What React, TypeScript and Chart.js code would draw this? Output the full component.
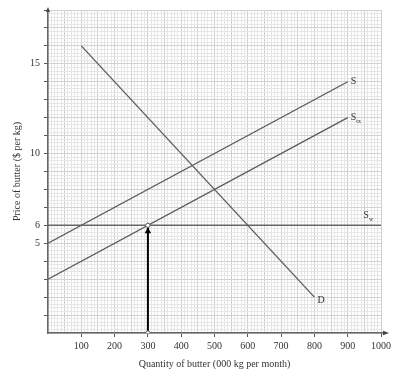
import { useEffect, useRef } from 'react';
import { Chart, registerables } from 'chart.js';

Chart.register(...registerables);

// ---- data ----
const quantityRange = [0, 1000];
const priceRange = [0, 18];
const xLabelTicks = [100, 200, 300, 400, 500, 600, 700, 800, 900, 1000];
const yLabelTicks = [5, 6, 10, 15];

const demandQ = [100, 800];
const demandP = [16, 2];
const supplyQ = [0, 900];
const supplyP = [5, 14];
const supplyTaxQ = [0, 900];
const supplyTaxP = [3, 12];
const worldQ = [0, 1000];
const worldP = [6, 6];
const arrowQ = [300, 300];
const arrowP = [0, 6];

const curveNames = ['D', 'S', 'S', 'S'];
const curveSubs = ['', '', 'tx', 'w'];
const worldLabelQ = 950;

const FONT = "'Liberation Serif', 'Times New Roman', serif";

const pts = (xs: number[], ys: number[]) => xs.map((v, i) => ({ x: v, y: ys[i] }));

const isInt = (v: number) => Math.abs(v - Math.round(v)) < 1e-6;
const inList = (v: number, list: number[]) => list.some((l) => Math.abs(l - v) < 1e-6);

const annotate = {
  id: 'annotate',
  afterDatasetsDraw(chart: any) {
    const { ctx, chartArea, scales } = chart;
    const x = scales.x;
    const y = scales.y;
    ctx.save();
    const y0 = y.getPixelForValue(0);
    const x0 = x.getPixelForValue(0);
    // x axis arrow
    ctx.strokeStyle = '#666';
    ctx.fillStyle = '#444';
    ctx.lineWidth = 1.5;
    ctx.beginPath();
    ctx.moveTo(chartArea.right, y0);
    ctx.lineTo(chartArea.right + 4, y0);
    ctx.stroke();
    ctx.beginPath();
    ctx.moveTo(chartArea.right + 8, y0);
    ctx.lineTo(chartArea.right + 2, y0 - 2.2);
    ctx.lineTo(chartArea.right + 2, y0 + 2.2);
    ctx.closePath();
    ctx.fill();
    // y axis arrow
    ctx.beginPath();
    ctx.moveTo(x0, chartArea.top - 3);
    ctx.lineTo(x0 - 2, chartArea.top + 2);
    ctx.lineTo(x0 + 2, chartArea.top + 2);
    ctx.closePath();
    ctx.fill();

    // vertical arrow head
    const ax = x.getPixelForValue(arrowQ[1]);
    const ay = y.getPixelForValue(arrowP[1]);
    ctx.fillStyle = '#000';
    ctx.beginPath();
    ctx.moveTo(ax, ay + 2);
    ctx.lineTo(ax - 3.2, ay + 8);
    ctx.lineTo(ax + 3.2, ay + 8);
    ctx.closePath();
    ctx.fill();
    ctx.fillStyle = '#fff';
    ctx.strokeStyle = '#555';
    ctx.lineWidth = 1;
    ctx.beginPath();
    ctx.arc(ax, ay, 2.2, 0, Math.PI * 2);
    ctx.fill();
    ctx.stroke();

    // curve labels
    const anchors = [
      { q: demandQ[1], p: demandP[1], dx: 3, dy: 3 },
      { q: supplyQ[1], p: supplyP[1], dx: 3, dy: 0 },
      { q: supplyTaxQ[1], p: supplyTaxP[1], dx: 3, dy: 0 },
      { q: worldLabelQ, p: worldP[0], dx: -1, dy: -10 },
    ];
    ctx.fillStyle = '#333';
    ctx.textBaseline = 'middle';
    ctx.textAlign = 'left';
    anchors.forEach((a, i) => {
      const px = x.getPixelForValue(a.q) + a.dx;
      const py = y.getPixelForValue(a.p) + a.dy;
      ctx.font = `10px ${FONT}`;
      ctx.fillText(curveNames[i], px, py);
      if (curveSubs[i]) {
        const w = ctx.measureText(curveNames[i]).width;
        ctx.font = `6px ${FONT}`;
        ctx.fillText(curveSubs[i], px + w, py + 4);
      }
    });
    ctx.restore();
  },
};

export default function App() {
  const ref = useRef<HTMLCanvasElement | null>(null);
  useEffect(() => {
    if (!ref.current) return;
    const lineStyle = {
      showLine: true,
      borderColor: '#5c5c5c',
      borderWidth: 1.3,
      pointRadius: 0,
      fill: false,
      tension: 0,
    };
    const chart = new Chart(ref.current, {
      type: 'scatter',
      data: {
        datasets: [
          {
            label: 'arrow',
            data: pts(arrowQ, arrowP),
            showLine: true,
            borderColor: '#000',
            borderWidth: 2,
            pointRadius: [2.2, 0],
            pointBackgroundColor: '#fff',
            pointBorderColor: '#555',
            pointBorderWidth: 1,
          },
          { label: 'D', data: pts(demandQ, demandP), ...lineStyle },
          { label: 'S', data: pts(supplyQ, supplyP), ...lineStyle },
          { label: 'Stx', data: pts(supplyTaxQ, supplyTaxP), ...lineStyle },
          { label: 'Sw', data: pts(worldQ, worldP), ...lineStyle, borderColor: '#666', borderWidth: 1.5 },
        ],
      },
      options: {
        animation: false,
        responsive: false,
        maintainAspectRatio: false,
        layout: { padding: { top: 10, right: 18, left: 0, bottom: 0 } },
        plugins: { legend: { display: false }, tooltip: { enabled: false } },
        scales: {
          x: {
            type: 'linear',
            min: quantityRange[0],
            max: quantityRange[1],
            afterFit: (s: any) => {
              s.height = 43;
            },
            border: { color: '#666', width: 1.5 },
            grid: {
              color: (c: any) => (c.tick && c.tick.value % 50 === 0 ? '#cfcfcf' : '#e6e6e6'),
              lineWidth: 1,
              tickLength: 4,
              tickColor: (c: any) =>
                c.tick && c.tick.value % 100 === 0 && c.tick.value > 0 ? '#555' : 'rgba(0,0,0,0)',
            },
            ticks: {
              stepSize: 10,
              autoSkip: false,
              maxRotation: 0,
              padding: 3,
              color: '#333',
              font: { family: FONT, size: 10 },
              callback: (v: any) => (inList(Number(v), xLabelTicks) ? String(v) : ''),
            },
            title: {
              display: true,
              text: 'Quantity of butter (000 kg per month)',
              color: '#333',
              font: { family: FONT, size: 10 },
              padding: { top: 0, bottom: 6 },
            },
          },
          y: {
            type: 'linear',
            min: priceRange[0],
            max: priceRange[1],
            afterFit: (s: any) => {
              s.width = 48;
            },
            border: { color: '#666', width: 1.5 },
            grid: {
              color: (c: any) => (c.tick && isInt(c.tick.value) ? '#d2d2d2' : '#e6e6e6'),
              lineWidth: 1,
              tickLength: 4,
              tickColor: (c: any) =>
                c.tick && isInt(c.tick.value) && c.tick.value > 0 ? '#555' : 'rgba(0,0,0,0)',
            },
            ticks: {
              stepSize: 0.2,
              autoSkip: false,
              padding: 4,
              color: '#333',
              font: { family: FONT, size: 10 },
              callback: (v: any) => (inList(Number(v), yLabelTicks) ? String(Math.round(Number(v))) : ''),
            },
            title: {
              display: true,
              text: 'Price of butter ($ per kg)',
              color: '#333',
              font: { family: FONT, size: 10 },
              padding: { top: 11, bottom: 0 },
            },
          },
        },
      },
      plugins: [annotate],
    } as any);
    return () => chart.destroy();
  }, []);
  return (
    <div style={{ position: 'fixed', left: 0, top: 0, width: 399, height: 376, background: '#fff' }}>
      <canvas ref={ref} width={399} height={376} style={{ width: 399, height: 376 }} />
    </div>
  );
}
